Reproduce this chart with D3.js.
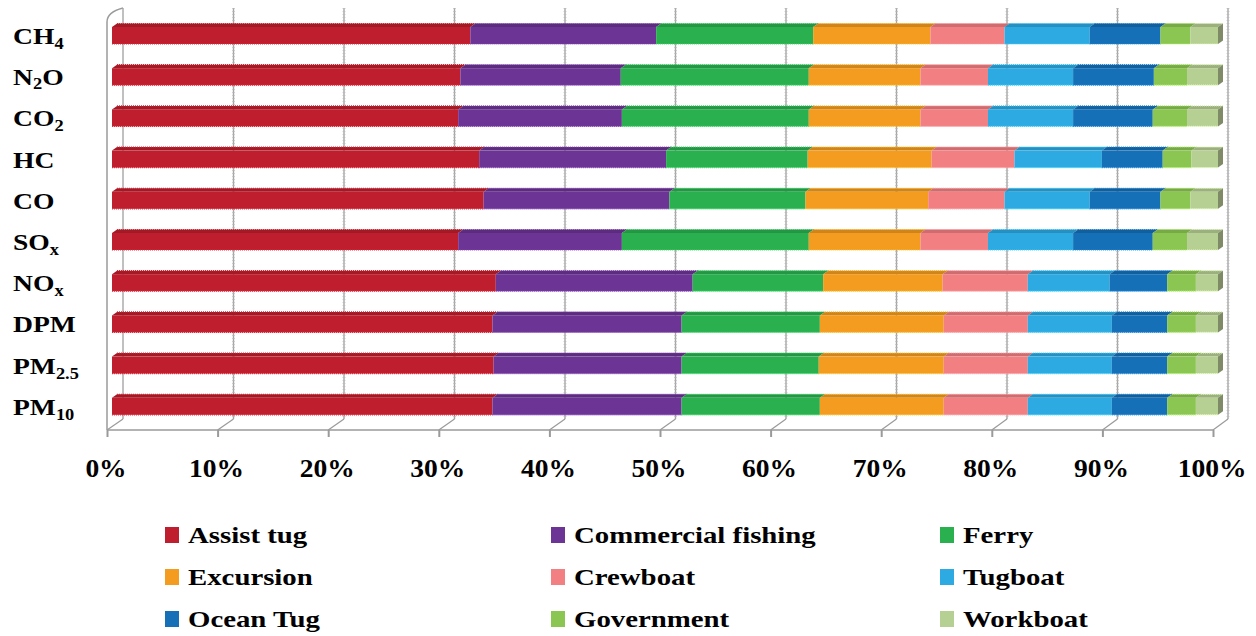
<!DOCTYPE html>
<html><head><meta charset="utf-8">
<script src="https://cdn.jsdelivr.net/npm/d3@7"></script>
<style>body{margin:0;background:#fff} svg{display:block}</style>
</head><body><svg id="chart" width="1256" height="636"></svg>
<script>
// Pollutants (top to bottom); subscript part after "_"
const categories = ["CH_4", "N_2O", "CO_2", "HC", "CO", "SO_x", "NO_x", "DPM", "PM_2.5", "PM_10"];
const seriesNames = ["Assist tug", "Commercial fishing", "Ferry", "Excursion", "Crewboat", "Tugboat", "Ocean Tug", "Government", "Workboat"];
const seriesColors = ["#BE1E2D", "#6C3494", "#2BB050", "#F39C1F", "#F27F82", "#2DAAE1", "#1570B8", "#8CC652", "#B6CF93"];

// Share of emissions by vessel type, percent
const assistTug         = [32.4, 31.5, 31.3, 33.2, 33.6, 31.3, 34.7, 34.4, 34.5, 34.4];
const commercialFishing = [16.8, 14.5, 14.8, 16.9, 16.8, 14.8, 17.8, 17.1, 17.0, 17.1];
const ferry             = [14.2, 17.0, 16.9, 12.8, 12.3, 16.9, 11.8, 12.5, 12.4, 12.5];
const excursion         = [10.6, 10.1, 10.1, 11.2, 11.1, 10.1, 10.8, 11.2, 11.3, 11.2];
const crewboat          = [6.7, 6.1, 6.1, 7.5, 6.9, 6.1, 7.7, 7.6, 7.6, 7.6];
const tugboat           = [7.7, 7.7, 7.7, 7.9, 7.7, 7.7, 7.4, 7.6, 7.6, 7.6];
const oceanTug          = [6.4, 7.3, 7.2, 5.5, 6.4, 7.2, 5.2, 5.0, 5.0, 5.0];
const government        = [2.7, 3.0, 3.1, 2.6, 2.7, 3.1, 2.6, 2.6, 2.6, 2.6];
const workboat          = [2.5, 2.8, 2.8, 2.4, 2.5, 2.8, 2.0, 2.0, 2.0, 2.0];

const tickValues = [0, 10, 20, 30, 40, 50, 60, 70, 80, 90, 100];
const tickLabels = ["0%", "10%", "20%", "30%", "40%", "50%", "60%", "70%", "80%", "90%", "100%"];

const seriesValues = [assistTug, commercialFishing, ferry, excursion, crewboat, tugboat, oceanTug, government, workboat];
const table = categories.map((c, i) => {
  const row = { category: c };
  seriesNames.forEach((s, j) => row[s] = seriesValues[j][i]);
  return row;
});

const svg = d3.select("#chart");
const FONT = "'Liberation Serif', 'DejaVu Serif', serif";

// 3D box: front plane, bar plane and back wall
const xFront = d3.scaleLinear().domain([0, 100]).range([107, 1213]);
const xBar = d3.scaleLinear().domain([0, 100]).range([112, 1218]);
const xBack = d3.scaleLinear().domain([0, 100]).range([123, 1228]);
const y = d3.scaleBand().domain(categories).range([14.9, 426.9]).paddingInner(0.587).paddingOuter(0.2935);
const wallTop = 8, backFloor = 419, frontFloor = 430;
const depthX = 5, depthY = 3.5;

const grid = svg.append("g");
// left wall
grid.append("path")
  .attr("d", `M${xFront(0)},${frontFloor} L${xFront(0)},${wallTop + 14} Q${xFront(0)},${wallTop + 4} ${xBack(0)},${wallTop}`)
  .attr("fill", "none").attr("stroke", "#9a9a9a").attr("stroke-width", 1.5);
// back wall gridlines
tickValues.forEach(v => {
  grid.append("line")
    .attr("x1", xBack(v)).attr("x2", xBack(v)).attr("y1", wallTop).attr("y2", backFloor)
    .attr("stroke", "#a5a5a5").attr("stroke-width", 1.4);
  if (v > 0) grid.append("line")
    .attr("x1", xBack(v)).attr("x2", xBack(v)).attr("y1", wallTop).attr("y2", backFloor)
    .attr("stroke", "#b8b8b8").attr("stroke-width", 3).attr("stroke-dasharray", "1,2").attr("opacity", 0.6);
  // floor depth lines
  grid.append("line")
    .attr("x1", xBack(v)).attr("y1", backFloor).attr("x2", xFront(v)).attr("y2", frontFloor)
    .attr("stroke", "#9a9a9a").attr("stroke-width", 1.2);
});
// front floor edge
grid.append("line")
  .attr("x1", xFront(0)).attr("x2", xFront(100)).attr("y1", frontFloor).attr("y2", frontFloor)
  .attr("stroke", "#9a9a9a").attr("stroke-width", 1.5);

// axis below the floor
const axis = d3.axisBottom(xFront).tickValues(tickValues).tickFormat((d, i) => tickLabels[i]).tickSize(7);
const axisG = svg.append("g").attr("transform", `translate(0,${frontFloor})`).call(axis);
axisG.select(".domain").remove();
axisG.selectAll(".tick line").attr("stroke", "#9a9a9a").attr("stroke-width", 2);
axisG.selectAll(".tick text")
  .attr("font-family", FONT).attr("font-weight", "bold").attr("font-size", 25).attr("fill", "#000")
  .attr("x", null).attr("y", null).attr("dy", null)
  .attr("transform", "translate(-1.5,47) scale(1.1,1)");

// stacked bars
const stack = d3.stack().keys(seriesNames);
const layers = stack(table);
const bars = svg.append("g");
const h = y.bandwidth();
layers.forEach((layer, j) => {
  const col = d3.color(seriesColors[j]);
  const g = bars.append("g");
  layer.forEach(d => {
    const x0 = xBar(d[0]), x1 = xBar(d[1]), yy = y(d.data.category);
    // top face
    g.append("path")
      .attr("d", `M${x0},${yy} L${x0 + depthX},${yy - depthY} L${x1 + depthX},${yy - depthY} L${x1},${yy} Z`)
      .attr("fill", col.darker(0.45));
    // front face
    g.append("rect").attr("x", x0).attr("y", yy).attr("width", x1 - x0).attr("height", h)
      .attr("fill", col);
    // soft serrated edges
    g.append("line").attr("x1", x0).attr("x2", x1).attr("y1", yy + h).attr("y2", yy + h)
      .attr("stroke", col.brighter(0.6)).attr("stroke-width", 1.2).attr("stroke-dasharray", "1,1");
    g.append("line").attr("x1", x0 + depthX).attr("x2", x1 + depthX).attr("y1", yy - depthY).attr("y2", yy - depthY)
      .attr("stroke", col.brighter(0.4)).attr("stroke-width", 1.2).attr("stroke-dasharray", "1,1");
    if (j === layers.length - 1) {
      g.append("path")
        .attr("d", `M${x1},${yy} L${x1 + depthX},${yy - depthY} L${x1 + depthX},${yy + h - depthY} L${x1},${yy + h} Z`)
        .attr("fill", "#7f8a66");
    }
  });
});

// category labels with subscripts
const labels = svg.append("g");
categories.forEach(c => {
  const [main, sub] = c.split("_");
  const t = labels.append("text")
    .attr("transform", `translate(13,${y(c) + h / 2 + 8.5}) scale(1.15,1)`)
    .attr("font-family", FONT).attr("font-weight", "bold").attr("font-size", 24).attr("fill", "#000");
  if (c === "N_2O") {
    t.append("tspan").text("N");
    t.append("tspan").text("2").attr("font-size", 16).attr("dy", 4);
    t.append("tspan").text("O").attr("dy", -4);
  } else {
    t.append("tspan").text(main);
    if (sub) t.append("tspan").text(sub).attr("font-size", 16).attr("dy", 5);
  }
});

// legend
const legendX = [165, 551, 940];
const legendY = [537, 579, 621];
const legend = svg.append("g");
seriesNames.forEach((s, i) => {
  const lx = legendX[i % 3], ly = legendY[Math.floor(i / 3)];
  legend.append("rect").attr("x", lx).attr("y", ly - 10).attr("width", 14).attr("height", 16)
    .attr("fill", seriesColors[i]);
  legend.append("text")
    .attr("transform", `translate(${lx + 23},${ly + 6}) scale(1.2,1)`)
    .attr("font-family", FONT).attr("font-weight", "bold").attr("font-size", 24).attr("fill", "#000")
    .text(s);
});
</script>
</body></html>
